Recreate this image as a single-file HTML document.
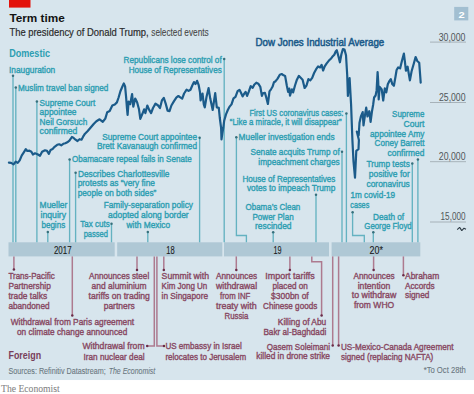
<!DOCTYPE html>
<html><head><meta charset="utf-8"><style>
html,body{margin:0;padding:0;background:#fff;width:474px;height:394px;overflow:hidden}
svg{display:block;font-family:"Liberation Sans",sans-serif}
</style></head><body>
<svg width="474" height="394" viewBox="0 0 474 394">
<rect x="0" y="0" width="474" height="380.2" fill="#d7e5ed"/>
<rect x="0" y="380.2" width="474" height="13.8" fill="#ffffff"/>
<rect x="9" y="0" width="21.5" height="7.6" fill="#e3120b"/>
<text x="9.4" y="21.9" font-size="11.66" fill="#121212" font-weight="bold" textLength="55.4" lengthAdjust="spacingAndGlyphs">Term time</text>
<text x="9.4" y="36.4" font-size="11.23" fill="#2a2a2a" font-weight="normal" textLength="139.3" lengthAdjust="spacingAndGlyphs" stroke="#2a2a2a" stroke-width="0.2">The presidency of Donald Trump,</text>
<text x="151.3" y="36.4" font-size="11.23" fill="#474747" font-weight="normal" textLength="57.4" lengthAdjust="spacingAndGlyphs" stroke="#474747" stroke-width="0.1">selected events</text>
<rect x="454.2" y="6.9" width="14.1" height="13.5" fill="#a2bfd1"/>
<text x="458.5" y="17.8" font-size="9.50" fill="#ffffff" font-weight="bold" textLength="6.2" lengthAdjust="spacingAndGlyphs">2</text>
<text x="9.2" y="56.5" font-size="10.58" fill="#2d9eb2" font-weight="bold" textLength="40.8" lengthAdjust="spacingAndGlyphs">Domestic</text>
<line x1="430" y1="42.1" x2="466" y2="42.1" stroke="#9ba5ab" stroke-width="0.8"/>
<text x="438.7" y="40.9" font-size="10.80" fill="#505558" font-weight="normal" textLength="26.8" lengthAdjust="spacingAndGlyphs">30,000</text>
<line x1="430" y1="102.5" x2="466" y2="102.5" stroke="#9ba5ab" stroke-width="0.8"/>
<text x="439.0" y="100.6" font-size="10.80" fill="#505558" font-weight="normal" textLength="26.5" lengthAdjust="spacingAndGlyphs">25,000</text>
<line x1="430" y1="161.7" x2="466" y2="161.7" stroke="#9ba5ab" stroke-width="0.8"/>
<text x="438.8" y="160.2" font-size="10.80" fill="#505558" font-weight="normal" textLength="26.7" lengthAdjust="spacingAndGlyphs">20,000</text>
<line x1="430" y1="222" x2="466" y2="222" stroke="#9ba5ab" stroke-width="0.8"/>
<text x="440.6" y="220.3" font-size="10.80" fill="#505558" font-weight="normal" textLength="24.9" lengthAdjust="spacingAndGlyphs">15,000</text>
<polyline points="457.2,229.6 459.6,227.4 461.8,230.6 464,228.2 466,229.2" fill="none" stroke="#2c3a44" stroke-width="1.1" stroke-linejoin="bevel"/>
<rect x="8.5" y="242.3" width="106.2" height="14.1" fill="#afc8d5"/>
<rect x="117.2" y="242.3" width="105.1" height="14.1" fill="#afc8d5"/>
<rect x="224" y="242.3" width="105" height="14.1" fill="#afc8d5"/>
<rect x="331.6" y="242.3" width="88.7" height="14.1" fill="#afc8d5"/>
<text x="53.9" y="253.6" font-size="10.04" fill="#1a1a1a" font-weight="normal" textLength="17.7" lengthAdjust="spacingAndGlyphs" stroke="#1a1a1a" stroke-width="0.1">2017</text>
<text x="166.3" y="253.6" font-size="10.04" fill="#1a1a1a" font-weight="normal" textLength="8.4" lengthAdjust="spacingAndGlyphs" stroke="#1a1a1a" stroke-width="0.1">18</text>
<text x="273.4" y="253.6" font-size="10.04" fill="#1a1a1a" font-weight="normal" textLength="8.1" lengthAdjust="spacingAndGlyphs" stroke="#1a1a1a" stroke-width="0.1">19</text>
<text x="369.6" y="253.6" font-size="10.04" fill="#1a1a1a" font-weight="normal" textLength="13.4" lengthAdjust="spacingAndGlyphs" stroke="#1a1a1a" stroke-width="0.1">20*</text>
<polyline points="13.0,75.8 13.0,242.3" fill="none" stroke="#64b2c1" stroke-width="1.35"/>
<circle cx="13.0" cy="75.8" r="1.25" fill="#36707c"/>
<polyline points="15.8,87.4 15.8,242.3" fill="none" stroke="#64b2c1" stroke-width="1.35"/>
<circle cx="15.8" cy="87.4" r="1.25" fill="#36707c"/>
<polyline points="36.9,101.4 36.9,242.3" fill="none" stroke="#64b2c1" stroke-width="1.35"/>
<circle cx="36.9" cy="101.4" r="1.25" fill="#36707c"/>
<polyline points="47.8,232.0 47.8,242.3" fill="none" stroke="#64b2c1" stroke-width="1.35"/>
<circle cx="47.8" cy="232.0" r="1.25" fill="#36707c"/>
<polyline points="69.6,159.4 69.6,242.3" fill="none" stroke="#64b2c1" stroke-width="1.35"/>
<circle cx="69.6" cy="159.4" r="1.25" fill="#36707c"/>
<polyline points="75.6,172.8 75.6,242.3" fill="none" stroke="#64b2c1" stroke-width="1.35"/>
<circle cx="75.6" cy="172.8" r="1.25" fill="#36707c"/>
<polyline points="111.5,223.8 111.5,242.3" fill="none" stroke="#64b2c1" stroke-width="1.35"/>
<circle cx="111.5" cy="223.8" r="1.25" fill="#36707c"/>
<polyline points="147.8,232.0 147.8,242.3" fill="none" stroke="#64b2c1" stroke-width="1.35"/>
<circle cx="147.8" cy="232.0" r="1.25" fill="#36707c"/>
<polyline points="199.6,137.8 199.6,242.3" fill="none" stroke="#64b2c1" stroke-width="1.35"/>
<circle cx="199.6" cy="137.8" r="1.25" fill="#36707c"/>
<polyline points="224.2,59.1 224.2,242.3" fill="none" stroke="#64b2c1" stroke-width="1.35"/>
<circle cx="224.2" cy="59.1" r="1.25" fill="#36707c"/>
<polyline points="236.4,137.2 236.4,235.5 246.4,235.5 246.4,242.3" fill="none" stroke="#64b2c1" stroke-width="1.35"/>
<circle cx="236.3" cy="137.2" r="1.25" fill="#36707c"/>
<polyline points="273.2,232.2 273.2,242.3" fill="none" stroke="#64b2c1" stroke-width="1.35"/>
<circle cx="273.2" cy="232.2" r="1.25" fill="#36707c"/>
<polyline points="316.0,194.8 316.0,242.3" fill="none" stroke="#64b2c1" stroke-width="1.35"/>
<circle cx="316.0" cy="194.8" r="1.25" fill="#36707c"/>
<polyline points="342.0,151.7 342.0,242.3" fill="none" stroke="#64b2c1" stroke-width="1.35"/>
<circle cx="342.0" cy="151.7" r="1.25" fill="#36707c"/>
<polyline points="346.4,113.6 346.4,242.3" fill="none" stroke="#64b2c1" stroke-width="1.35"/>
<circle cx="346.4" cy="113.6" r="1.25" fill="#36707c"/>
<polyline points="352.6,212.2 352.6,235.5 364.3,235.5 364.3,242.3" fill="none" stroke="#64b2c1" stroke-width="1.35"/>
<circle cx="352.6" cy="212.2" r="1.25" fill="#36707c"/>
<polyline points="373.3,232.3 373.3,242.3" fill="none" stroke="#64b2c1" stroke-width="1.35"/>
<circle cx="373.3" cy="232.3" r="1.25" fill="#36707c"/>
<polyline points="412.3,163.4 412.3,242.3" fill="none" stroke="#64b2c1" stroke-width="1.35"/>
<circle cx="412.3" cy="163.4" r="1.25" fill="#36707c"/>
<polyline points="417.9,159.6 417.9,242.3" fill="none" stroke="#64b2c1" stroke-width="1.35"/>
<circle cx="417.9" cy="159.6" r="1.25" fill="#36707c"/>
<text x="9.0" y="72.7" font-size="9.72" fill="#2d9eb2" font-weight="normal" textLength="46.2" lengthAdjust="spacingAndGlyphs" stroke="#2d9eb2" stroke-width="0.4">Inauguration</text>
<text x="18.0" y="90.6" font-size="9.72" fill="#2d9eb2" font-weight="normal" textLength="90.3" lengthAdjust="spacingAndGlyphs" stroke="#2d9eb2" stroke-width="0.4">Muslim travel ban signed</text>
<text x="39.6" y="105.5" font-size="9.72" fill="#2d9eb2" font-weight="normal" textLength="55.8" lengthAdjust="spacingAndGlyphs" stroke="#2d9eb2" stroke-width="0.4">Supreme Court</text>
<text x="39.6" y="114.7" font-size="9.72" fill="#2d9eb2" font-weight="normal" textLength="36.9" lengthAdjust="spacingAndGlyphs" stroke="#2d9eb2" stroke-width="0.4">appointee</text>
<text x="39.6" y="124.7" font-size="9.72" fill="#2d9eb2" font-weight="normal" textLength="47.7" lengthAdjust="spacingAndGlyphs" stroke="#2d9eb2" stroke-width="0.4">Neil Gorsuch</text>
<text x="39.6" y="134.3" font-size="9.72" fill="#2d9eb2" font-weight="normal" textLength="37.8" lengthAdjust="spacingAndGlyphs" stroke="#2d9eb2" stroke-width="0.4">confirmed</text>
<text x="123.6" y="62.7" font-size="9.72" fill="#2d9eb2" font-weight="normal" textLength="98.1" lengthAdjust="spacingAndGlyphs" stroke="#2d9eb2" stroke-width="0.4">Republicans lose control of</text>
<text x="128.7" y="72.5" font-size="9.72" fill="#2d9eb2" font-weight="normal" textLength="93.0" lengthAdjust="spacingAndGlyphs" stroke="#2d9eb2" stroke-width="0.4">House of Representatives</text>
<text x="255.5" y="45.9" font-size="11.45" fill="#1b5b8a" font-weight="normal" textLength="128.8" lengthAdjust="spacingAndGlyphs" stroke="#1b5b8a" stroke-width="0.55">Dow Jones Industrial Average</text>
<text x="249.4" y="116.1" font-size="9.72" fill="#2d9eb2" font-weight="normal" textLength="94.1" lengthAdjust="spacingAndGlyphs" stroke="#2d9eb2" stroke-width="0.4">First US coronavirus cases:</text>
<text x="229.8" y="125.3" font-size="9.72" fill="#2d9eb2" font-weight="normal" textLength="111.9" lengthAdjust="spacingAndGlyphs" stroke="#2d9eb2" stroke-width="0.4">“Like a miracle, it will disappear”</text>
<text x="238.6" y="139.7" font-size="9.72" fill="#2d9eb2" font-weight="normal" textLength="96.0" lengthAdjust="spacingAndGlyphs" stroke="#2d9eb2" stroke-width="0.4">Mueller investigation ends</text>
<text x="250.5" y="155.0" font-size="9.72" fill="#2d9eb2" font-weight="normal" textLength="89.2" lengthAdjust="spacingAndGlyphs" stroke="#2d9eb2" stroke-width="0.4">Senate acquits Trump of</text>
<text x="258.3" y="165.1" font-size="9.72" fill="#2d9eb2" font-weight="normal" textLength="81.4" lengthAdjust="spacingAndGlyphs" stroke="#2d9eb2" stroke-width="0.4">impeachment charges</text>
<text x="242.4" y="182.1" font-size="9.72" fill="#2d9eb2" font-weight="normal" textLength="92.9" lengthAdjust="spacingAndGlyphs" stroke="#2d9eb2" stroke-width="0.4">House of Representatives</text>
<text x="246.9" y="190.9" font-size="9.72" fill="#2d9eb2" font-weight="normal" textLength="88.4" lengthAdjust="spacingAndGlyphs" stroke="#2d9eb2" stroke-width="0.4">votes to impeach Trump</text>
<text x="245.5" y="209.9" font-size="9.72" fill="#2d9eb2" font-weight="normal" textLength="54.8" lengthAdjust="spacingAndGlyphs" stroke="#2d9eb2" stroke-width="0.4">Obama’s Clean</text>
<text x="252.5" y="219.8" font-size="9.72" fill="#2d9eb2" font-weight="normal" textLength="41.1" lengthAdjust="spacingAndGlyphs" stroke="#2d9eb2" stroke-width="0.4">Power Plan</text>
<text x="255.0" y="229.3" font-size="9.72" fill="#2d9eb2" font-weight="normal" textLength="36.5" lengthAdjust="spacingAndGlyphs" stroke="#2d9eb2" stroke-width="0.4">rescinded</text>
<text x="102.2" y="140.3" font-size="9.72" fill="#2d9eb2" font-weight="normal" textLength="94.8" lengthAdjust="spacingAndGlyphs" stroke="#2d9eb2" stroke-width="0.4">Supreme Court appointee</text>
<text x="96.9" y="149.3" font-size="9.72" fill="#2d9eb2" font-weight="normal" textLength="100.1" lengthAdjust="spacingAndGlyphs" stroke="#2d9eb2" stroke-width="0.4">Brett Kavanaugh confirmed</text>
<text x="71.9" y="162.1" font-size="9.72" fill="#2d9eb2" font-weight="normal" textLength="119.8" lengthAdjust="spacingAndGlyphs" stroke="#2d9eb2" stroke-width="0.4">Obamacare repeal fails in Senate</text>
<text x="77.9" y="176.6" font-size="9.72" fill="#2d9eb2" font-weight="normal" textLength="91.5" lengthAdjust="spacingAndGlyphs" stroke="#2d9eb2" stroke-width="0.4">Describes Charlottesville</text>
<text x="77.7" y="185.8" font-size="9.72" fill="#2d9eb2" font-weight="normal" textLength="77.3" lengthAdjust="spacingAndGlyphs" stroke="#2d9eb2" stroke-width="0.4">protests as “very fine</text>
<text x="77.7" y="195.6" font-size="9.72" fill="#2d9eb2" font-weight="normal" textLength="78.6" lengthAdjust="spacingAndGlyphs" stroke="#2d9eb2" stroke-width="0.4">people on both sides”</text>
<text x="39.6" y="208.4" font-size="9.72" fill="#2d9eb2" font-weight="normal" textLength="27.7" lengthAdjust="spacingAndGlyphs" stroke="#2d9eb2" stroke-width="0.4">Mueller</text>
<text x="40.5" y="218.1" font-size="9.72" fill="#2d9eb2" font-weight="normal" textLength="25.6" lengthAdjust="spacingAndGlyphs" stroke="#2d9eb2" stroke-width="0.4">inquiry</text>
<text x="41.4" y="227.7" font-size="9.72" fill="#2d9eb2" font-weight="normal" textLength="23.8" lengthAdjust="spacingAndGlyphs" stroke="#2d9eb2" stroke-width="0.4">begins</text>
<text x="80.2" y="227.3" font-size="9.72" fill="#2d9eb2" font-weight="normal" textLength="29.5" lengthAdjust="spacingAndGlyphs" stroke="#2d9eb2" stroke-width="0.4">Tax cuts</text>
<text x="83.7" y="237.4" font-size="9.72" fill="#2d9eb2" font-weight="normal" textLength="24.2" lengthAdjust="spacingAndGlyphs" stroke="#2d9eb2" stroke-width="0.4">passed</text>
<text x="103.7" y="207.5" font-size="9.72" fill="#2d9eb2" font-weight="normal" textLength="89.3" lengthAdjust="spacingAndGlyphs" stroke="#2d9eb2" stroke-width="0.4">Family-separation policy</text>
<text x="108.1" y="217.8" font-size="9.72" fill="#2d9eb2" font-weight="normal" textLength="80.6" lengthAdjust="spacingAndGlyphs" stroke="#2d9eb2" stroke-width="0.4">adopted along border</text>
<text x="126.5" y="227.9" font-size="9.72" fill="#2d9eb2" font-weight="normal" textLength="43.7" lengthAdjust="spacingAndGlyphs" stroke="#2d9eb2" stroke-width="0.4">with Mexico</text>
<text x="392.1" y="116.7" font-size="9.72" fill="#2d9eb2" font-weight="normal" textLength="32.3" lengthAdjust="spacingAndGlyphs" stroke="#2d9eb2" stroke-width="0.4">Supreme</text>
<text x="403.5" y="126.6" font-size="9.72" fill="#2d9eb2" font-weight="normal" textLength="20.9" lengthAdjust="spacingAndGlyphs" stroke="#2d9eb2" stroke-width="0.4">Court</text>
<text x="370.0" y="136.5" font-size="9.72" fill="#2d9eb2" font-weight="normal" textLength="54.4" lengthAdjust="spacingAndGlyphs" stroke="#2d9eb2" stroke-width="0.4">appointee Amy</text>
<text x="374.6" y="146.4" font-size="9.72" fill="#2d9eb2" font-weight="normal" textLength="49.8" lengthAdjust="spacingAndGlyphs" stroke="#2d9eb2" stroke-width="0.4">Coney Barrett</text>
<text x="387.5" y="156.0" font-size="9.72" fill="#2d9eb2" font-weight="normal" textLength="36.9" lengthAdjust="spacingAndGlyphs" stroke="#2d9eb2" stroke-width="0.4">confirmed</text>
<text x="366.5" y="167.2" font-size="9.72" fill="#2d9eb2" font-weight="normal" textLength="43.3" lengthAdjust="spacingAndGlyphs" stroke="#2d9eb2" stroke-width="0.4">Trump tests</text>
<text x="368.8" y="176.6" font-size="9.72" fill="#2d9eb2" font-weight="normal" textLength="41.0" lengthAdjust="spacingAndGlyphs" stroke="#2d9eb2" stroke-width="0.4">positive for</text>
<text x="366.5" y="187.0" font-size="9.72" fill="#2d9eb2" font-weight="normal" textLength="43.3" lengthAdjust="spacingAndGlyphs" stroke="#2d9eb2" stroke-width="0.4">coronavirus</text>
<text x="350.5" y="197.9" font-size="9.72" fill="#2d9eb2" font-weight="normal" textLength="44.5" lengthAdjust="spacingAndGlyphs" stroke="#2d9eb2" stroke-width="0.4">1m covid-19</text>
<text x="350.3" y="207.8" font-size="9.72" fill="#2d9eb2" font-weight="normal" textLength="19.0" lengthAdjust="spacingAndGlyphs" stroke="#2d9eb2" stroke-width="0.4">cases</text>
<text x="373.1" y="220.0" font-size="9.72" fill="#2d9eb2" font-weight="normal" textLength="31.0" lengthAdjust="spacingAndGlyphs" stroke="#2d9eb2" stroke-width="0.4">Death of</text>
<text x="364.3" y="228.9" font-size="9.72" fill="#2d9eb2" font-weight="normal" textLength="47.4" lengthAdjust="spacingAndGlyphs" stroke="#2d9eb2" stroke-width="0.4">George Floyd</text>
<polyline points="13.9,256.4 13.9,269.6" fill="none" stroke="#ad7a8f" stroke-width="1.5"/>
<circle cx="13.9" cy="269.6" r="1.25" fill="#6a2c48"/>
<polyline points="72.3,256.4 72.3,315.6" fill="none" stroke="#ad7a8f" stroke-width="1.5"/>
<circle cx="72.3" cy="315.6" r="1.25" fill="#6a2c48"/>
<polyline points="137.0,256.4 137.0,270.0" fill="none" stroke="#ad7a8f" stroke-width="1.5"/>
<circle cx="137.0" cy="270.0" r="1.25" fill="#6a2c48"/>
<polyline points="154.3,256.4 154.3,346.0 147.2,346.0" fill="none" stroke="#ad7a8f" stroke-width="1.5"/>
<circle cx="147.2" cy="346.0" r="1.25" fill="#6a2c48"/>
<polyline points="156.9,256.4 156.9,346.0 164.0,346.0" fill="none" stroke="#ad7a8f" stroke-width="1.5"/>
<circle cx="164.0" cy="346.0" r="1.25" fill="#6a2c48"/>
<polyline points="163.8,256.4 163.8,270.0" fill="none" stroke="#ad7a8f" stroke-width="1.5"/>
<circle cx="163.8" cy="270.0" r="1.25" fill="#6a2c48"/>
<polyline points="236.3,256.4 236.3,270.0" fill="none" stroke="#ad7a8f" stroke-width="1.5"/>
<circle cx="236.3" cy="270.0" r="1.25" fill="#6a2c48"/>
<polyline points="289.9,256.4 289.9,270.0" fill="none" stroke="#ad7a8f" stroke-width="1.5"/>
<circle cx="289.9" cy="270.0" r="1.25" fill="#6a2c48"/>
<polyline points="311.8,256.4 311.8,261.8 321.6,261.8 321.6,315.6" fill="none" stroke="#ad7a8f" stroke-width="1.5"/>
<circle cx="321.6" cy="315.6" r="1.25" fill="#6a2c48"/>
<polyline points="332.7,256.4 332.7,345.6" fill="none" stroke="#ad7a8f" stroke-width="1.5"/>
<circle cx="332.7" cy="345.6" r="1.25" fill="#6a2c48"/>
<polyline points="338.6,256.4 338.6,345.6" fill="none" stroke="#ad7a8f" stroke-width="1.5"/>
<circle cx="338.6" cy="345.6" r="1.25" fill="#6a2c48"/>
<polyline points="373.6,256.4 373.6,270.0" fill="none" stroke="#ad7a8f" stroke-width="1.5"/>
<circle cx="373.6" cy="270.0" r="1.25" fill="#6a2c48"/>
<polyline points="403.4,256.4 403.4,275.3" fill="none" stroke="#ad7a8f" stroke-width="1.5"/>
<circle cx="403.4" cy="275.3" r="1.25" fill="#6a2c48"/>
<text x="8.4" y="279.3" font-size="9.72" fill="#884963" font-weight="normal" textLength="46.4" lengthAdjust="spacingAndGlyphs" stroke="#884963" stroke-width="0.4">Trans-Pacific</text>
<text x="8.4" y="288.9" font-size="9.72" fill="#884963" font-weight="normal" textLength="42.4" lengthAdjust="spacingAndGlyphs" stroke="#884963" stroke-width="0.4">Partnership</text>
<text x="8.4" y="299.0" font-size="9.72" fill="#884963" font-weight="normal" textLength="38.7" lengthAdjust="spacingAndGlyphs" stroke="#884963" stroke-width="0.4">trade talks</text>
<text x="8.4" y="308.9" font-size="9.72" fill="#884963" font-weight="normal" textLength="41.2" lengthAdjust="spacingAndGlyphs" stroke="#884963" stroke-width="0.4">abandoned</text>
<text x="89.1" y="278.9" font-size="9.72" fill="#884963" font-weight="normal" textLength="60.1" lengthAdjust="spacingAndGlyphs" stroke="#884963" stroke-width="0.4">Announces steel</text>
<text x="91.6" y="288.8" font-size="9.72" fill="#884963" font-weight="normal" textLength="55.0" lengthAdjust="spacingAndGlyphs" stroke="#884963" stroke-width="0.4">and aluminium</text>
<text x="88.6" y="298.7" font-size="9.72" fill="#884963" font-weight="normal" textLength="61.3" lengthAdjust="spacingAndGlyphs" stroke="#884963" stroke-width="0.4">tariffs on trading</text>
<text x="103.7" y="308.7" font-size="9.72" fill="#884963" font-weight="normal" textLength="31.0" lengthAdjust="spacingAndGlyphs" stroke="#884963" stroke-width="0.4">partners</text>
<text x="161.6" y="278.9" font-size="9.72" fill="#884963" font-weight="normal" textLength="47.4" lengthAdjust="spacingAndGlyphs" stroke="#884963" stroke-width="0.4">Summit with</text>
<text x="161.6" y="288.8" font-size="9.72" fill="#884963" font-weight="normal" textLength="45.7" lengthAdjust="spacingAndGlyphs" stroke="#884963" stroke-width="0.4">Kim Jong Un</text>
<text x="161.6" y="298.7" font-size="9.72" fill="#884963" font-weight="normal" textLength="46.4" lengthAdjust="spacingAndGlyphs" stroke="#884963" stroke-width="0.4">in Singapore</text>
<text x="216.0" y="278.9" font-size="9.72" fill="#884963" font-weight="normal" textLength="41.1" lengthAdjust="spacingAndGlyphs" stroke="#884963" stroke-width="0.4">Announces</text>
<text x="216.0" y="288.8" font-size="9.72" fill="#884963" font-weight="normal" textLength="41.1" lengthAdjust="spacingAndGlyphs" stroke="#884963" stroke-width="0.4">withdrawal</text>
<text x="220.1" y="298.7" font-size="9.72" fill="#884963" font-weight="normal" textLength="30.2" lengthAdjust="spacingAndGlyphs" stroke="#884963" stroke-width="0.4">from INF</text>
<text x="216.0" y="308.6" font-size="9.72" fill="#884963" font-weight="normal" textLength="40.6" lengthAdjust="spacingAndGlyphs" stroke="#884963" stroke-width="0.4">treaty with</text>
<text x="224.5" y="318.9" font-size="9.72" fill="#884963" font-weight="normal" textLength="23.9" lengthAdjust="spacingAndGlyphs" stroke="#884963" stroke-width="0.4">Russia</text>
<text x="265.3" y="278.9" font-size="9.72" fill="#884963" font-weight="normal" textLength="49.4" lengthAdjust="spacingAndGlyphs" stroke="#884963" stroke-width="0.4">Import tariffs</text>
<text x="272.4" y="288.8" font-size="9.72" fill="#884963" font-weight="normal" textLength="35.5" lengthAdjust="spacingAndGlyphs" stroke="#884963" stroke-width="0.4">placed on</text>
<text x="271.1" y="298.9" font-size="9.72" fill="#884963" font-weight="normal" textLength="37.6" lengthAdjust="spacingAndGlyphs" stroke="#884963" stroke-width="0.4">$300bn of</text>
<text x="263.0" y="308.6" font-size="9.72" fill="#884963" font-weight="normal" textLength="54.3" lengthAdjust="spacingAndGlyphs" stroke="#884963" stroke-width="0.4">Chinese goods</text>
<text x="353.5" y="279.2" font-size="9.72" fill="#884963" font-weight="normal" textLength="41.1" lengthAdjust="spacingAndGlyphs" stroke="#884963" stroke-width="0.4">Announces</text>
<text x="357.7" y="289.3" font-size="9.72" fill="#884963" font-weight="normal" textLength="32.6" lengthAdjust="spacingAndGlyphs" stroke="#884963" stroke-width="0.4">intention</text>
<text x="351.8" y="298.4" font-size="9.72" fill="#884963" font-weight="normal" textLength="44.5" lengthAdjust="spacingAndGlyphs" stroke="#884963" stroke-width="0.4">to withdraw</text>
<text x="353.9" y="308.3" font-size="9.72" fill="#884963" font-weight="normal" textLength="40.3" lengthAdjust="spacingAndGlyphs" stroke="#884963" stroke-width="0.4">from WHO</text>
<text x="405.0" y="279.2" font-size="9.72" fill="#884963" font-weight="normal" textLength="34.3" lengthAdjust="spacingAndGlyphs" stroke="#884963" stroke-width="0.4">Abraham</text>
<text x="405.0" y="289.3" font-size="9.72" fill="#884963" font-weight="normal" textLength="29.7" lengthAdjust="spacingAndGlyphs" stroke="#884963" stroke-width="0.4">Accords</text>
<text x="405.0" y="298.4" font-size="9.72" fill="#884963" font-weight="normal" textLength="24.4" lengthAdjust="spacingAndGlyphs" stroke="#884963" stroke-width="0.4">signed</text>
<text x="10.7" y="325.4" font-size="9.72" fill="#884963" font-weight="normal" textLength="123.5" lengthAdjust="spacingAndGlyphs" stroke="#884963" stroke-width="0.4">Withdrawal from Paris agreement</text>
<text x="17.0" y="335.0" font-size="9.72" fill="#884963" font-weight="normal" textLength="110.3" lengthAdjust="spacingAndGlyphs" stroke="#884963" stroke-width="0.4">on climate change announced</text>
<text x="277.8" y="325.4" font-size="9.72" fill="#884963" font-weight="normal" textLength="48.5" lengthAdjust="spacingAndGlyphs" stroke="#884963" stroke-width="0.4">Killing of Abu</text>
<text x="263.4" y="335.2" font-size="9.72" fill="#884963" font-weight="normal" textLength="62.9" lengthAdjust="spacingAndGlyphs" stroke="#884963" stroke-width="0.4">Bakr al-Baghdadi</text>
<text x="82.4" y="349.3" font-size="9.72" fill="#884963" font-weight="normal" textLength="62.2" lengthAdjust="spacingAndGlyphs" stroke="#884963" stroke-width="0.4">Withdrawal from</text>
<text x="83.5" y="359.9" font-size="9.72" fill="#884963" font-weight="normal" textLength="61.1" lengthAdjust="spacingAndGlyphs" stroke="#884963" stroke-width="0.4">Iran nuclear deal</text>
<text x="165.4" y="349.3" font-size="9.72" fill="#884963" font-weight="normal" textLength="76.3" lengthAdjust="spacingAndGlyphs" stroke="#884963" stroke-width="0.4">US embassy in Israel</text>
<text x="165.4" y="359.9" font-size="9.72" fill="#884963" font-weight="normal" textLength="80.8" lengthAdjust="spacingAndGlyphs" stroke="#884963" stroke-width="0.4">relocates to Jerusalem</text>
<text x="266.8" y="349.5" font-size="9.72" fill="#884963" font-weight="normal" textLength="63.2" lengthAdjust="spacingAndGlyphs" stroke="#884963" stroke-width="0.4">Qasem Soleimani</text>
<text x="256.3" y="358.9" font-size="9.72" fill="#884963" font-weight="normal" textLength="73.7" lengthAdjust="spacingAndGlyphs" stroke="#884963" stroke-width="0.4">killed in drone strike</text>
<text x="340.9" y="349.5" font-size="9.72" fill="#884963" font-weight="normal" textLength="112.6" lengthAdjust="spacingAndGlyphs" stroke="#884963" stroke-width="0.4">US-Mexico-Canada Agreement</text>
<text x="340.9" y="359.7" font-size="9.72" fill="#884963" font-weight="normal" textLength="92.4" lengthAdjust="spacingAndGlyphs" stroke="#884963" stroke-width="0.4">signed (replacing NAFTA)</text>
<text x="8.5" y="358.9" font-size="11.12" fill="#773e5a" font-weight="bold" textLength="32.6" lengthAdjust="spacingAndGlyphs">Foreign</text>
<text x="8.5" y="373.6" font-size="9.72" fill="#6a7780" font-weight="normal" textLength="97.2" lengthAdjust="spacingAndGlyphs" stroke="#6a7780" stroke-width="0.1">Sources: Refinitiv Datastream;</text>
<text x="108.7" y="373.6" font-size="9.72" fill="#6a7780" font-weight="normal" textLength="46.6" lengthAdjust="spacingAndGlyphs" font-style="italic" stroke="#6a7780" stroke-width="0.1">The Economist</text>
<text x="423.7" y="372.7" font-size="9.72" fill="#6a7780" font-weight="normal" textLength="42.1" lengthAdjust="spacingAndGlyphs" stroke="#6a7780" stroke-width="0.1">*To Oct 28th</text>
<text x="1.0" y="391.8" font-size="10.58" fill="#828282" font-weight="normal" textLength="58.7" lengthAdjust="spacingAndGlyphs" font-family="Liberation Serif" stroke="#828282" stroke-width="0.05">The Economist</text>
<polyline points="8.9,162.6 11.1,162.9 13.6,164.4 15.7,161.6 17.7,162.9 19.7,160.4 21.8,155.3 23.8,152.3 25.8,149.2 27.3,151.0 29.4,150.7 31.4,151.8 32.9,154.5 35.0,153.3 37.5,154.3 40.0,155.8 42.1,151.8 45.0,150.3 47.0,150.9 48.9,153.9 50.6,149.9 52.6,148.9 54.6,146.8 57.2,144.8 59.2,144.3 61.2,145.3 63.3,143.8 65.3,143.3 67.3,142.3 69.4,140.7 71.9,137.0 73.4,137.7 75.5,139.7 77.5,141.0 79.5,139.2 81.5,139.7 83.1,136.7 85.0,133.7 87.5,131.3 90.7,127.5 93.9,123.7 96.4,121.2 99.6,119.3 102.8,121.8 105.3,118.6 107.2,112.3 109.7,111.0 112.3,105.6 114.8,104.5 116.9,102.4 118.6,97.5 120.4,91.2 122.1,87.2 123.8,83.4 125.1,86.4 126.1,97.2 127.0,108.6 127.6,115.0 128.6,101.7 130.2,104.2 132.1,94.0 133.3,106.7 135.2,98.5 137.1,102.3 139.0,109.3 140.3,118.8 142.2,114.3 144.1,109.3 145.4,113.1 147.3,105.5 149.2,109.9 151.1,113.1 153.0,108.0 155.5,103.6 158.1,105.5 160.0,108.0 161.9,100.4 163.8,97.8 165.7,103.6 167.6,110.6 169.5,111.2 171.4,105.5 174.0,101.1 176.5,97.3 178.4,96.0 180.3,97.3 182.2,98.6 184.1,93.5 186.6,89.7 188.6,90.9 190.5,89.7 192.4,85.2 194.0,82.1 195.5,84.0 197.1,80.8 198.7,85.2 200.0,92.2 200.6,100.5 202.5,93.5 203.8,104.3 204.8,107.4 206.5,97.0 208.6,88.1 210.2,98.3 212.7,110.0 215.2,93.2 216.8,107.4 218.8,107.9 219.8,118.0 221.1,127.8 221.5,139.4 222.4,133.1 223.3,127.8 224.2,120.7 226.0,114.4 227.8,110.0 229.4,106.9 231.5,104.4 233.5,98.3 235.5,96.8 237.6,91.2 239.5,89.8 241.0,92.8 242.6,96.4 244.1,93.9 245.6,91.8 247.1,95.9 248.7,91.8 250.7,86.2 252.7,87.8 254.2,84.7 256.3,82.7 258.3,83.7 260.3,86.8 261.9,95.9 262.9,93.4 264.9,92.8 266.4,97.9 267.9,104.0 269.5,91.3 271.0,89.3 272.5,86.8 274.0,82.2 275.6,81.2 277.6,78.6 279.8,74.7 281.7,74.0 283.6,75.3 285.1,75.9 286.8,85.5 288.1,91.8 289.3,88.6 290.0,95.6 291.9,89.3 293.1,92.4 295.0,85.5 296.9,79.7 298.8,75.9 300.7,77.8 302.6,79.7 304.6,88.0 306.5,85.5 308.4,79.1 310.3,80.4 312.2,77.8 314.1,73.0 316.0,69.4 318.1,66.4 320.1,67.4 321.6,64.9 323.1,70.5 324.7,66.4 326.7,63.4 328.7,60.8 330.8,58.8 332.3,56.8 334.3,54.7 335.8,51.2 336.8,50.2 338.4,56.2 339.9,62.3 341.4,54.2 342.9,49.1 344.5,49.6 346.0,55.2 347.2,75.0 347.9,96.0 349.6,78.0 351.1,105.0 352.4,140.0 353.5,161.5 355.0,177.7 356.3,150.8 358.5,149.2 358.9,140.0 356.8,131.6 358.7,135.2 359.5,122.8 360.9,116.5 362.7,112.1 363.5,125.4 364.9,115.7 366.2,107.7 367.5,116.5 369.3,111.2 370.6,121.9 372.0,111.2 373.1,105.0 374.1,97.5 375.6,95.5 376.6,90.4 377.6,72.1 378.2,81.2 378.7,99.5 379.7,86.8 381.7,89.4 383.2,100.5 384.8,88.4 386.3,92.4 387.8,84.3 389.3,81.2 390.8,79.2 392.4,84.3 393.9,85.8 395.4,77.2 396.6,70.0 398.2,67.4 400.1,68.4 401.9,61.0 403.9,53.6 405.1,63.3 405.9,70.7 407.6,66.7 409.9,80.4 411.6,71.3 413.9,63.3 415.6,57.0 417.3,61.0 419.2,62.7 420.7,82.7" fill="none" stroke="#1b5b8a" stroke-width="2.2" stroke-linejoin="round" stroke-linecap="round"/>
</svg>
</body></html>
